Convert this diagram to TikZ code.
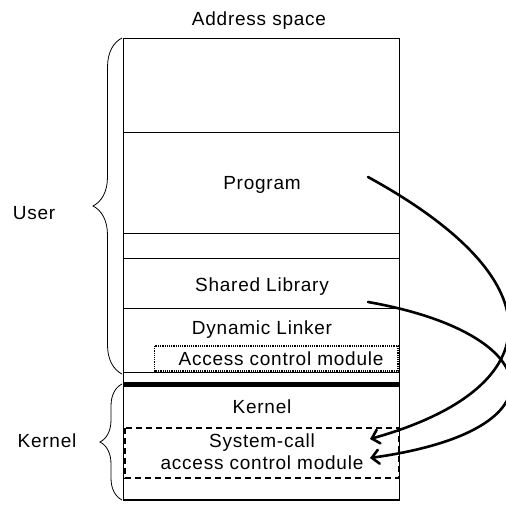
\documentclass[tikz,border=0pt]{standalone}
\usepackage{fontspec}
\setmainfont[LetterSpace=4]{Liberation Sans}
\usetikzlibrary{arrows.meta,decorations.pathreplacing}
\begin{document}
\begin{tikzpicture}[x=1pt,y=-1pt,
  lbl/.style={font=\fontsize{19}{21}\selectfont, inner sep=0pt, anchor=base},
  sep/.style={line width=1pt},
  curlybrace/.style={decorate, decoration={brace, amplitude=#1}, line width=0.8pt},
  callarrow/.style={line width=2.6pt, line cap=round,
    -{Straight Barb[length=7pt,width=14pt,line cap=round]}}]
\useasboundingbox (0,0) rectangle (506,505);

% address space column
\draw[line width=1.3pt] (123.5,38.5) rectangle (399.5,500);
\draw[sep] (123.5,132.5) -- (399.5,132.5);
\draw[sep] (123.5,233.5) -- (399.5,233.5);
\draw[sep] (123.5,258.5) -- (399.5,258.5);
\draw[sep] (123.5,308.5) -- (399.5,308.5);
\draw[sep] (123.5,372) -- (399.5,372);
\draw[line width=5pt] (123.5,384.5) -- (399.5,384.5);

% module boxes
\draw[densely dotted, line width=1.2pt] (154.5,346) rectangle (398,371);
\draw[dash pattern=on 6pt off 4pt, line width=1.6pt] (125,428) rectangle (398.5,478);

% texts (placed on their baselines)
\node[lbl] (title) at (259,26) {Address space};
\node[lbl] (prog) at (262,190) {Program};
\node[lbl] (shlib) at (262,291) {Shared Library};
\node[lbl] (dynl) at (262,334) {Dynamic Linker};
\node[lbl] (acm) at (281,365) {Access control module};
\node[lbl] (kern) at (262,413) {Kernel};
\node[lbl] (sysc) at (262,447) {System-call};
\node[lbl] (sacm) at (262,469.5) {access control module};
\node[lbl] (user) at (34,220) {User};
\node[lbl] (kside) at (47,447) {Kernel};

% side braces
\draw[curlybrace=29pt] (122,374) -- (122,38);
\draw[curlybrace=22pt] (122,500) -- (122,384);

% call paths into the kernel module
\coordinate (p1) at (368,177);
\coordinate (t1) at (370,439);
\coordinate (p2) at (368,302);
\coordinate (t2) at (370,458);
\draw[callarrow] (p1) .. controls (565,285) and (545,390) .. (t1);
\draw[callarrow] (p2) .. controls (545,333) and (570,430) .. (t2);
\end{tikzpicture}
\end{document}
